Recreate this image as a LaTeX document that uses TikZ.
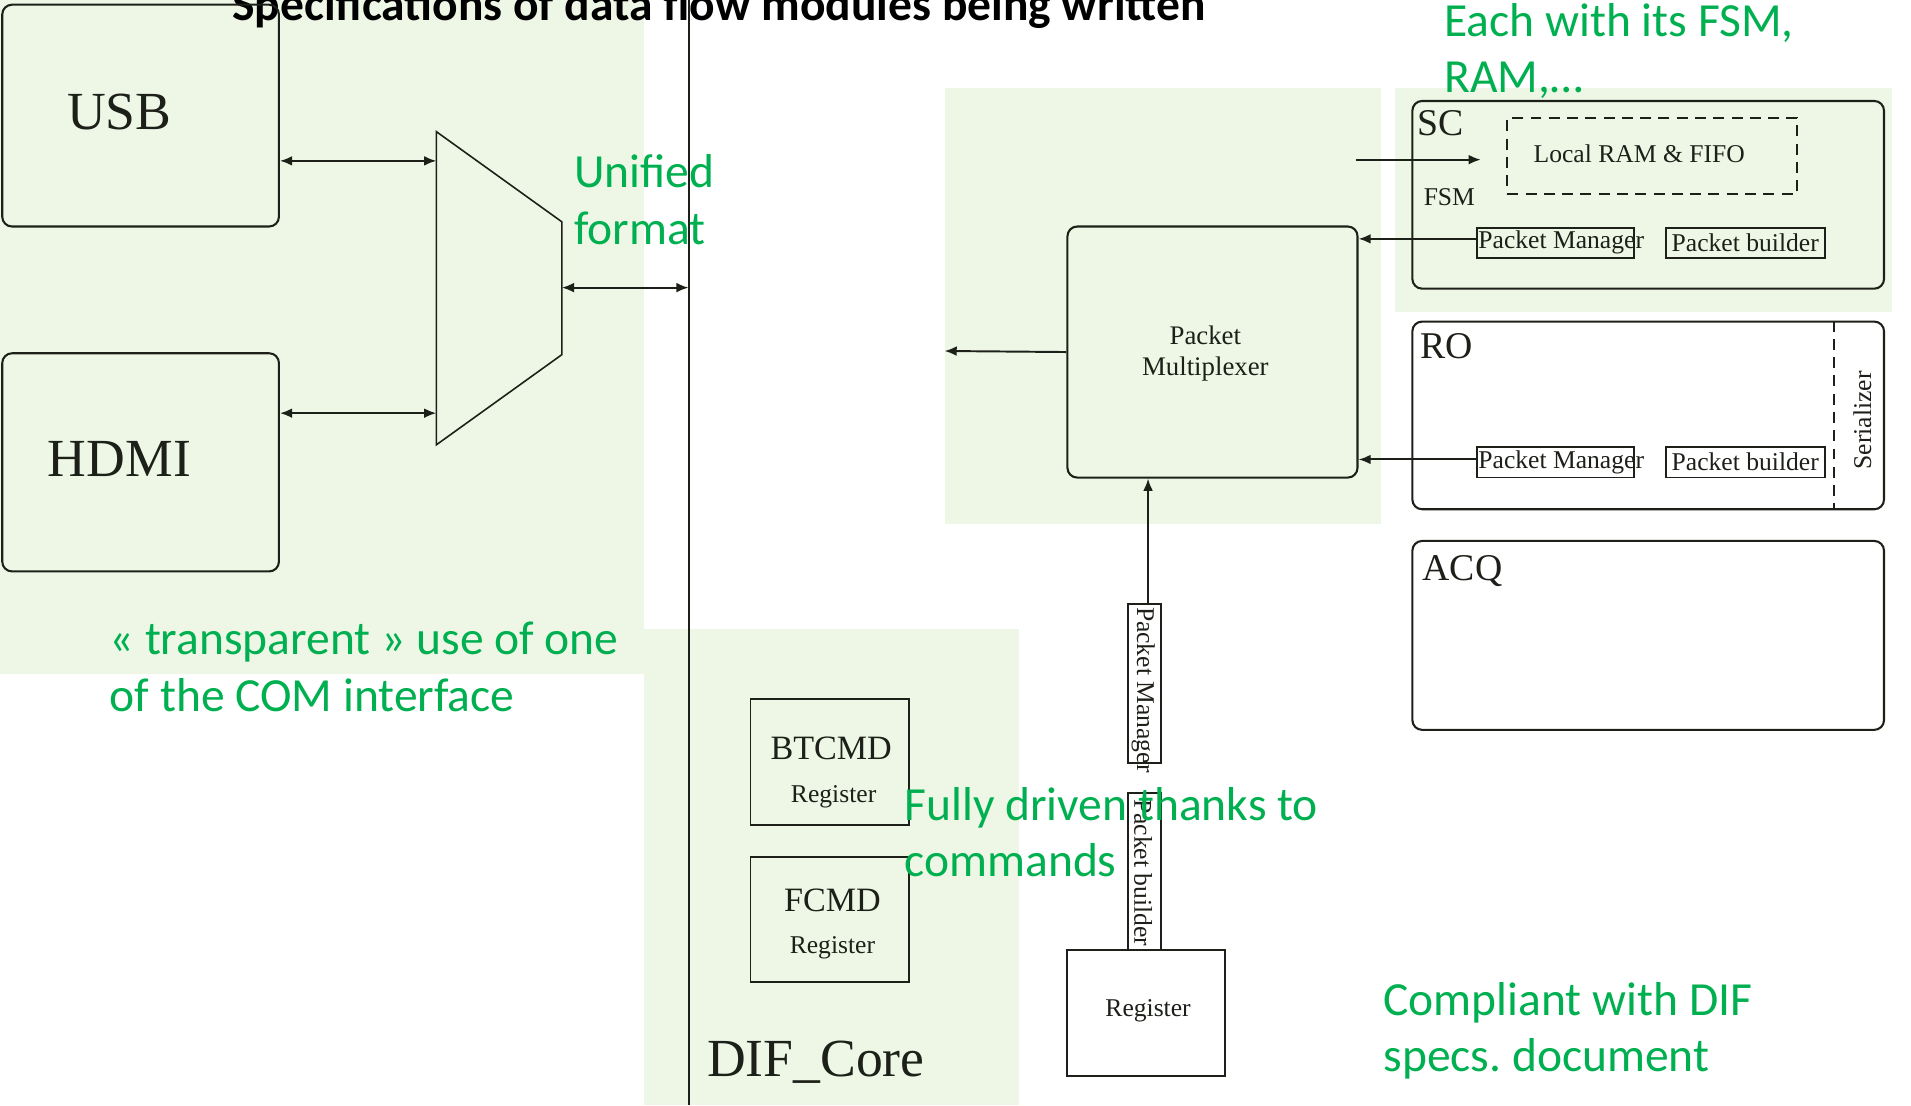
\documentclass[tikz,border=0pt]{standalone}
\usepackage{fontspec}
\setmainfont{Liberation Serif}
\newfontfamily\calib{Carlito}
\usetikzlibrary{arrows.meta}
\definecolor{panel}{RGB}{238,247,230}
\definecolor{pptgreen}{RGB}{0,176,80}
\definecolor{ink}{RGB}{28,32,24}
\frenchspacing
\begin{document}
\begin{tikzpicture}[x=1pt,y=-1pt,
  panelbox/.style={fill=panel,draw=none},
  modbox/.style={draw=ink,line width=1.7pt,rounded corners=8pt,anchor=north west,inner sep=0pt},
  sqbox/.style={draw=ink,line width=1.6pt,anchor=north west,inner sep=0pt},
  dashbox/.style={draw=ink,line width=1.6pt,dashed,dash pattern=on 9pt off 6pt,anchor=north west,inner sep=0pt},
  link/.style={draw=ink,line width=1.6pt},
  onetip/.style={-{Latex[length=10pt,width=8pt]}},
  twotip/.style={{Latex[length=10pt,width=8pt]}-{Latex[length=10pt,width=8pt]}},
  hugetxt/.style={text=ink,inner sep=0pt,font=\fontsize{44}{48}\selectfont},
  bigtxt/.style={text=ink,inner sep=0pt,font=\fontsize{31}{34}\selectfont},
  midtxt/.style={text=ink,inner sep=0pt,font=\fontsize{28}{31}\selectfont},
  smalltxt/.style={text=ink,inner sep=0pt,font=\fontsize{21}{24}\selectfont},
  greentxt/.style={text=pptgreen,inner sep=0pt,anchor=base west,font=\calib\fontsize{39}{46}\selectfont},
  titletxt/.style={text=black,inner sep=0pt,anchor=base,font=\calib\bfseries\fontsize{39}{46}\selectfont}
]
\useasboundingbox (0,0) rectangle (1568,907);
\clip (0,0) rectangle (1568,907);

% background panels
\fill[panelbox] (0,0) rectangle (528,553);
\fill[panelbox] (528,516) rectangle (836,907);
\fill[panelbox] (775,72) rectangle (1133,430);
\fill[panelbox] (1145,72) rectangle (1552,256);

% title
\node[titletxt] (title) at (590,17) {Specifications of data flow modules being written};

% bus line
\coordinate (bustop) at (565,0);
\coordinate (busbot) at (565,907);
\draw[link] (bustop) -- (busbot);

% USB / HDMI
\node[modbox,minimum width=227pt,minimum height=182pt] (usb) at (1,3) {};
\node[hugetxt] (usbt) at (98,92) {USB};
\node[modbox,minimum width=227pt,minimum height=179pt] (hdmi) at (1,289) {};
\node[hugetxt] (hdmit) at (98,377) {HDMI};

% mux trapezoid
\coordinate (muxA) at (358,108);
\coordinate (muxB) at (461,182);
\coordinate (muxC) at (461,291);
\coordinate (muxD) at (358,365);
\draw[link,line width=1.3pt] (muxA) -- (muxB) -- (muxC) -- (muxD) -- cycle;
\coordinate (muxin1) at (358,132);
\coordinate (muxin2) at (358,339);
\coordinate (muxout) at (461,236);
\coordinate (busin) at (565,236);
\draw[link,twotip] (usb.east |- muxin1) -- (muxin1);
\draw[link,twotip] (hdmi.east |- muxin2) -- (muxin2);
\draw[link,twotip] (muxout) -- (busin);

% Packet multiplexer
\node[modbox,minimum width=238pt,minimum height=206pt] (pmux) at (875,185) {};
\node[smalltxt,align=center,font=\fontsize{22}{26}\selectfont] (pmuxt) at (989,290) {Packet\\Multiplexer};
\coordinate (muxleft) at (775,288);
\draw[link,onetip] (pmux.west) -- (muxleft);

% SC
\node[modbox,minimum width=387pt,minimum height=154pt] (sc) at (1158,82) {};
\node[bigtxt,anchor=base west] (sct) at (1163,111) {SC};
\node[dashbox,minimum width=238pt,minimum height=62pt] (ram) at (1236,96) {};
\node[smalltxt] (ramt) at (1345,126) {Local RAM \& FIFO};
\node[smalltxt,anchor=base west] (fsm) at (1168,169) {FSM};
\node[sqbox,minimum width=129pt,minimum height=25pt] (scpm) at (1211,186) {};
\node[smalltxt] (scpmt) at (1281,199) {Packet Manager};
\node[sqbox,minimum width=131pt,minimum height=25pt] (scpb) at (1366,186) {};
\node[smalltxt] (scpbt) at (1432,199) {Packet builder};
\coordinate (fsmsrc) at (1113,131);
\coordinate (fsmin) at (1215,131);
\draw[link,onetip] (fsmsrc) -- (fsmin);
\draw[link,onetip] (scpm.west |- 0,196) -- (pmux.east |- 0,196);

% RO
\node[modbox,minimum width=387pt,minimum height=154pt] (ro) at (1158,263) {};
\node[bigtxt,anchor=base west] (rot) at (1165,294) {RO};
\coordinate (sertop) at (1505,263);
\coordinate (serbot) at (1505,417);
\draw[link,dashed,dash pattern=on 9pt off 6pt] (sertop) -- (serbot);
\node[smalltxt,rotate=90] (sert) at (1528,345) {Serializer};
\node[sqbox,minimum width=129pt,minimum height=25pt] (ropm) at (1211,366) {};
\node[smalltxt] (ropmt) at (1281,379) {Packet Manager};
\node[sqbox,minimum width=131pt,minimum height=25pt] (ropb) at (1366,366) {};
\node[smalltxt] (ropbt) at (1432,379) {Packet builder};
\draw[link,onetip] (ropm.west |- 0,377) -- (pmux.east |- 0,377);

% ACQ
\node[modbox,minimum width=387pt,minimum height=155pt] (acq) at (1158,443) {};
\node[bigtxt,anchor=base west] (acqt) at (1167,476) {ACQ};

% vertical packet manager / builder / register
\node[sqbox,minimum width=27pt,minimum height=130pt] (vpm) at (925,495) {};
\node[smalltxt,rotate=-90] (vpmt) at (938,566) {Packet Manager};
\node[sqbox,minimum width=27pt,minimum height=129pt] (vpb) at (925,650) {};
\node[smalltxt,rotate=-90] (vpbt) at (938,716) {Packet builder};
\node[sqbox,minimum width=129pt,minimum height=103pt] (reg) at (875,779) {};
\node[smalltxt] (regt) at (942,829) {Register};
\draw[link,onetip] (vpm.north -| 942,0) -- (pmux.south -| 942,0);

% DIF core registers
\node[sqbox,minimum width=130pt,minimum height=103pt] (btcmd) at (615,573) {};
\node[midtxt] (btcmdt) at (682,614) {BTCMD};
\node[smalltxt] (btcmdr) at (684,654) {Register};
\node[sqbox,minimum width=130pt,minimum height=103pt] (fcmd) at (615,702) {};
\node[midtxt] (fcmdt) at (683,739) {FCMD};
\node[smalltxt] (fcmdr) at (683,778) {Register};
\node[hugetxt,anchor=base west] (dif) at (580,883) {DIF\_Core};

% green annotations
\node[greentxt] (uni1) at (471,154) {Unified};
\node[greentxt] (uni2) at (471,201) {format};
\node[greentxt] (each1) at (1185,30) {Each with its FSM,};
\node[greentxt] (each2) at (1185,76) {RAM,…};
\node[greentxt] (tr1) at (90,537) {« transparent » use of one};
\node[greentxt] (tr2) at (90,584) {of the COM interface};
\node[greentxt] (fd1) at (742,673) {Fully driven thanks to};
\node[greentxt] (fd2) at (742,719) {commands};
\node[greentxt] (co1) at (1135,833) {Compliant with DIF};
\node[greentxt] (co2) at (1135,879) {specs. document};
\end{tikzpicture}
\end{document}
